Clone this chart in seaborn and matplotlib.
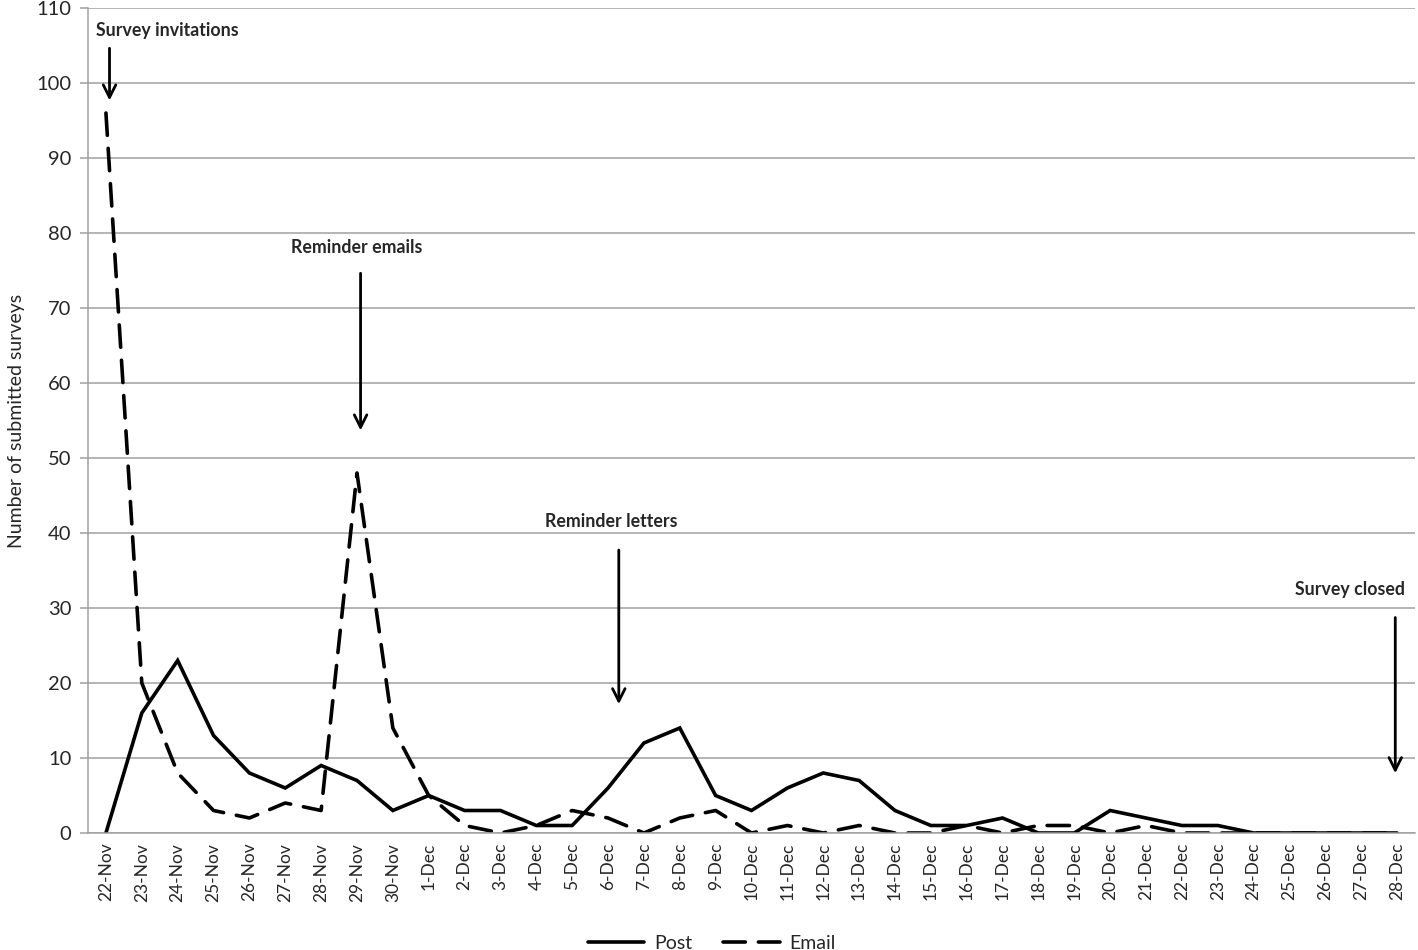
import matplotlib
matplotlib.use("Agg")
import matplotlib.pyplot as plt
import seaborn as sns
import pandas as pd

# dates on the x axis
days = ([f"{d}-Nov" for d in range(22, 31)] +
        [f"{d}-Dec" for d in range(1, 29)])

post = [0, 16, 23, 13, 8, 6, 9, 7, 3, 5, 3, 3, 1, 1, 6, 12, 14, 5, 3, 6,
        8, 7, 3, 1, 1, 2, 0, 0, 3, 2, 1, 1, 0, 0, 0, 0, 0]
email = [96, 20, 8, 3, 2, 4, 3, 48, 14, 5, 1, 0, 1, 3, 2, 0, 2, 3, 0, 1,
         0, 1, 0, 0, 1, 0, 1, 1, 0, 1, 0, 0, 0, 0, 0, 0, 0]

# annotations: text, text pos (x idx, y), arrow start y, arrow end y, arrow x idx
notes = [
    ("Survey invitations", 1.7, 107.0, 105.0, 97.3, 0.1),
    ("Reminder emails", 7.0, 78.1, 75.0, 53.3, 7.1),
    ("Reminder letters", 14.1, 41.5, 38.1, 16.8, 14.3),
    ("Survey closed", 34.7, 32.4, 29.1, 7.6, 35.95),
]

df = pd.DataFrame({
    "day": days * 2,
    "n": post + email,
    "series": ["Post"] * len(days) + ["Email"] * len(days),
})

sns.set_style("white")
plt.rcParams["font.family"] = ["Lato", "DejaVu Sans"]

fig = plt.figure(figsize=(14.18, 9.5), dpi=100)
ax = fig.add_axes([88 / 1418, 1 - 833 / 950, 1327 / 1418, 825 / 950])

sns.lineplot(data=df, x="day", y="n", hue="series", style="series",
             palette={"Post": "black", "Email": "black"},
             dashes={"Post": "", "Email": (6.2, 3.6)},
             linewidth=2.6, ax=ax, sort=False)
for ln in ax.get_lines():
    ln.set_dash_capstyle("round")
    ln.set_solid_joinstyle("miter")

ax.set_xlim(-0.5, len(days) - 0.5)
ax.set_ylim(0, 110)
ax.set_yticks(range(0, 111, 10))
ax.tick_params(axis="y", labelsize=14.5, length=6, width=1.1, color="#a0a0a0",
               pad=6, labelcolor="#262626", left=True)
ax.tick_params(axis="x", labelsize=12.5, length=0, pad=7, labelrotation=90)
ax.yaxis.grid(True, color="#a0a0a0", linewidth=1.1)
ax.xaxis.grid(False)
for s in ["top", "right"]:
    ax.spines[s].set_visible(False)
for s in ["left", "bottom"]:
    ax.spines[s].set_color("#a0a0a0")
    ax.spines[s].set_linewidth(1.1)

ax.set_xlabel("")
ax.set_ylabel("Number of submitted surveys", fontsize=14, labelpad=8)

for txt, tx, ty, y0, y1, ax_x in notes:
    ax.text(tx, ty, txt, ha="center", va="center", fontsize=12.8,
            fontweight="bold")
    ax.annotate("", xy=(ax_x, y1), xytext=(ax_x, y0),
                arrowprops=dict(arrowstyle="->,head_length=0.9,head_width=0.45",
                                color="black", lw=2))

leg = ax.legend(loc="lower center", bbox_to_anchor=(0.47, -0.158), ncol=2,
                frameon=False, fontsize=14, handlelength=2.9,
                handletextpad=0.5, columnspacing=1.6, borderpad=0.1)

fig.savefig("out.png", dpi=100)
